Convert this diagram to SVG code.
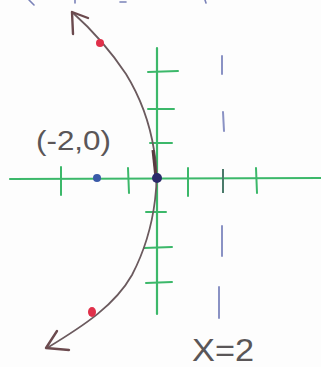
<svg xmlns="http://www.w3.org/2000/svg" width="321" height="367" viewBox="0 0 321 367">
<style>
.axis{stroke:#3cb86a;stroke-width:2.2;fill:none;stroke-linecap:round}
.tick{stroke:#3cb86a;stroke-width:2;fill:none;stroke-linecap:round}
.curve{stroke:#6b5a5e;stroke-width:1.8;fill:none;stroke-linecap:round}
.arrow{stroke:#6b4a4e;stroke-width:2.4;fill:none;stroke-linecap:round;stroke-linejoin:round}
.dash{stroke:#8a92c4;stroke-width:2;fill:none;stroke-linecap:round}
.lbl{font-family:"Liberation Sans",Arial,sans-serif;fill:#5a5658}
</style>
<rect width="321" height="367" fill="#fdfdfd"/>
<g id="axes">
<line class="axis" x1="10" y1="179" x2="321" y2="178"/>
<line class="axis" x1="157" y1="48" x2="157" y2="314"/>
<g class="tick">
<line x1="148" y1="72" x2="178" y2="71"/>
<line x1="148" y1="109" x2="174" y2="109"/>
<line x1="150" y1="143" x2="172" y2="143"/>
<line x1="146" y1="212" x2="166" y2="212"/>
<line x1="144" y1="248" x2="172" y2="247"/>
<line x1="146" y1="283" x2="172" y2="282"/>
<line x1="61" y1="167" x2="61" y2="195"/>
<line x1="128" y1="168" x2="129" y2="193"/>
<line x1="188" y1="168" x2="188" y2="196"/>
<line x1="256" y1="168" x2="257" y2="193"/>
</g>
<line x1="223" y1="169" x2="223" y2="193" stroke="#4a7a6a" stroke-width="2"/>
</g>
<g id="asymptote">
<g class="dash">
<line x1="222" y1="56" x2="222" y2="74"/>
<line x1="223" y1="112" x2="224" y2="131"/>
<line x1="222" y1="226" x2="222" y2="256"/>
<line x1="219" y1="287" x2="219" y2="318"/>
</g>
</g>
<g id="connectors">
<path class="curve" d="M72,12 C90,28 110,50 126,74 C142,100 150,125 154,150 C157,165 157,185 155,200 C152,225 145,250 132,275 C115,305 85,325 47,348"/>
<path class="arrow" d="M73,34 L72,12 L88,18"/>
<path class="arrow" d="M57,331 L46,348 L69,350"/>
<path d="M153,150 L156,178" stroke="#5a3a40" stroke-width="3" fill="none"/>
</g>
<g id="points">
<circle cx="100" cy="43" r="4" fill="#e0304a"/>
<ellipse cx="92" cy="312" rx="4" ry="5" fill="#e0304a"/>
<circle cx="97" cy="178" r="4" fill="#3a5aa8"/>
<circle cx="157" cy="178" r="5" fill="#2a2a6a"/>
</g>
<g id="labels">
<text class="lbl" x="36" y="150" font-size="27" textLength="75" lengthAdjust="spacingAndGlyphs">(-2,0)</text>
<text class="lbl" x="192" y="361" font-size="32" textLength="62" lengthAdjust="spacingAndGlyphs" fill="#6a6668">X=2</text>
</g>
<g id="top-marks" stroke="#7a82b8" stroke-width="1.6" stroke-linecap="round">
<line x1="29" y1="0" x2="34" y2="5"/>
<line x1="75" y1="0" x2="75" y2="3"/>
<line x1="120" y1="2" x2="126" y2="2"/>
<line x1="205" y1="0" x2="206" y2="3"/>
</g>
</svg>
